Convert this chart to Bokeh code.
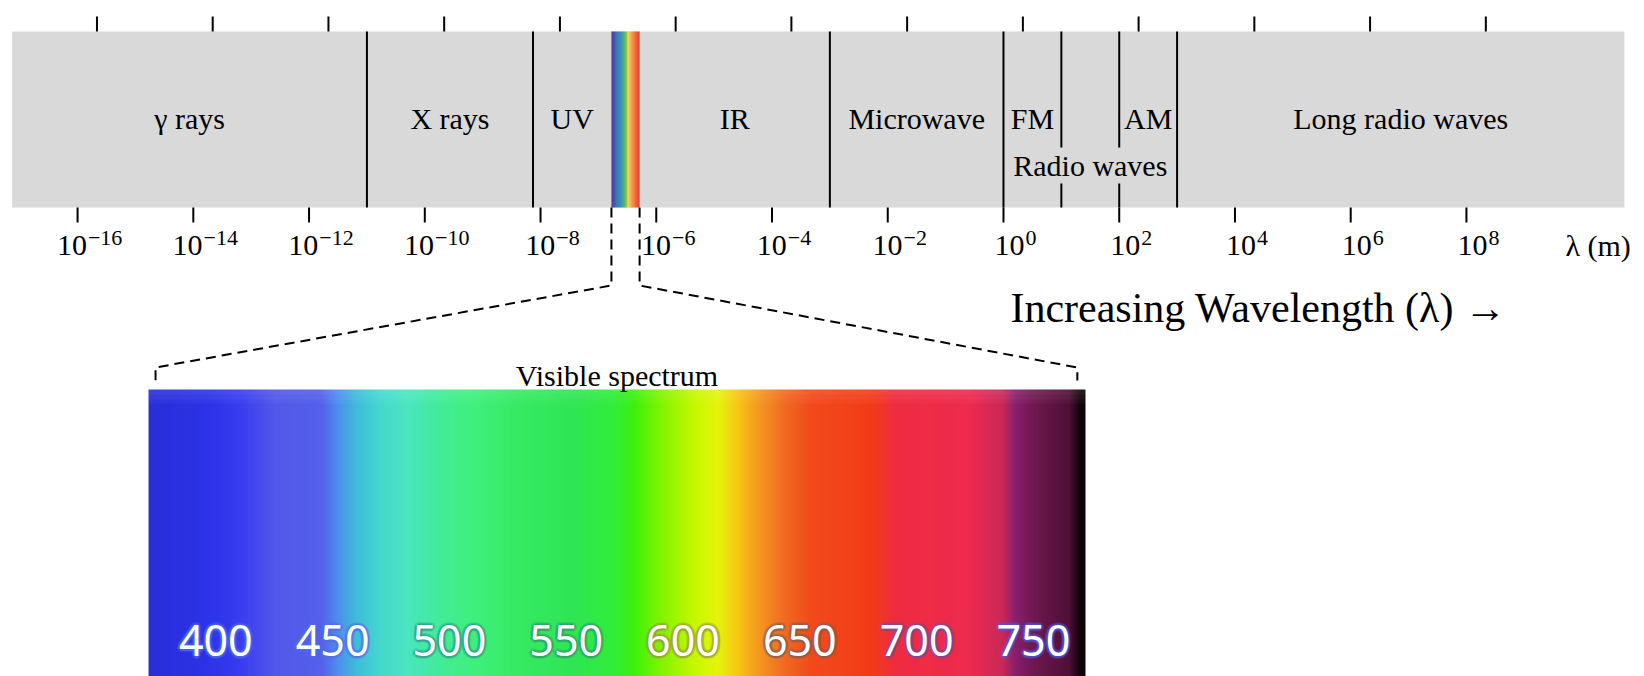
import numpy as np
from bokeh.plotting import figure
from bokeh.models import Range1d, ColumnDataSource
from bokeh.core.properties import value
from bokeh.embed import file_html
from bokeh.resources import INLINE

# ---------------- data (log10 of wavelength in metres) ----------------
band_names = ["γ rays", "X rays", "UV", "IR", "Microwave", "FM", "AM", "Long radio waves"]
band_lo = [-17.13, -11.0, -8.13, -6.288, -3.0, 0.0, 2.0, 3.0]
band_hi = [-11.0, -8.13, -6.775, -3.0, 0.0, 1.0, 3.0, 10.73]
radio_name = "Radio waves"
radio_lo, radio_hi = 0.0, 3.0
divider_full = [-11.0, -8.13, -3.0, 0.0, 3.0]
divider_split = [1.0, 2.0]
strip_lo, strip_hi = -17.13, 10.73
visible_lo, visible_hi = -6.775, -6.288

wl_exponents = [-16, -14, -12, -10, -8, -6, -4, -2, 0, 2, 4, 6, 8]
freq_tick_loglam = [-15.665, -13.665, -11.665, -9.665, -7.665, -5.665, -3.665,
                    -1.665, 0.335, 2.335, 4.335, 6.335, 8.335]

# small rainbow inside the strip (position in log10 λ, colour)
strip_rb_pos = [-6.775, -6.739, -6.687, -6.618, -6.566, -6.523, -6.489, -6.445, -6.393, -6.341, -6.288]
strip_rb_col = ["#55409e", "#4a4aa8", "#3a7cb8", "#3a90b8", "#48b088", "#88c840",
                "#f0e060", "#f4b050", "#f48048", "#ef6040", "#e03c30"]

# visible spectrum (nm)
spec_nm_lo, spec_nm_hi = 371.2, 772.3
spec_stop_nm = [371, 395, 410, 425, 445, 452, 460, 470, 482, 496, 510, 530, 553, 570, 579,
                590, 605, 615, 622, 632, 644, 655, 680, 690, 723, 737, 742, 750, 765, 770, 773]
spec_stop_col = ["#2a2ed8", "#2b33e8", "#3a3cf0", "#5258ea", "#5560ea", "#4f8eef", "#3fbcd9",
                 "#45d8d0", "#4be6c0", "#42ec98", "#40f07e", "#36ea62", "#2ee654", "#30ee38",
                 "#3cf00c", "#80f400", "#c8f800", "#e6f40c", "#f8cc14", "#f49a20", "#f06820",
                 "#f24a1c", "#f23c18", "#f02c40", "#ee2a50", "#c82858", "#8a2070", "#701850",
                 "#501038", "#100408", "#080408"]
spec_labels = [400, 450, 500, 550, 600, 650, 700, 750]
bracket_nm = [374.2, 768.8]

# ---------------- styling / layout ----------------
W, H = 1644, 676
SERIF = value("Liberation Serif")
SANS = value("Noto Sans")
glow_cols = ["#4f6cf0", "#4f6cf0", "#2a9a8a", "#2c9a6a", "#9a9a30", "#8a5a50", "#7a4a9a", "#4a5ad8"]
BASE_PX, EXP_PX = 30, 22


def Y(ref):
    # vertical layout: pixel row from the top -> data y
    return H - ref


def hex_rgb(h):
    return [int(h[i:i + 2], 16) for i in (1, 3, 5)]


def build_rgba(stop_pos, stop_hex, positions, rows, top_blend=None):
    rgb = np.array([hex_rgb(h) for h in stop_hex], float)
    cols = np.stack([np.interp(positions, stop_pos, rgb[:, k]) for k in range(3)], axis=1)
    img = np.empty((rows, len(positions)), dtype=np.uint32)
    v = img.view(dtype=np.uint8).reshape((rows, len(positions), 4))
    for r in range(rows):
        c = cols.copy()
        if top_blend is not None and r >= rows - len(top_blend):
            f = top_blend[r - (rows - len(top_blend))]
            c = c * (1 - f) + 255 * f
        v[r, :, 0:3] = np.clip(c, 0, 255).astype(np.uint8)
        v[r, :, 3] = 255
    return img


xr = Range1d(-17.332, 11.077)
p = figure(width=W, height=H, x_range=xr, y_range=Range1d(0, H),
           output_backend="svg", toolbar_location=None,
           x_axis_location=None, y_axis_location=None, min_border=0)
p.extra_x_ranges = {"nm": Range1d(307.83, 1011.6)}
p.grid.visible = False
p.outline_line_color = None
p.background_fill_color = "white"

# gray strip
p.quad(left=[strip_lo], right=[strip_hi], top=[Y(31)], bottom=[Y(207)],
       fill_color="#d9d9d9", line_color=None)

# rainbow in the strip
rb_pos = np.linspace(visible_lo, visible_hi, 60)
p.image_rgba(image=[build_rgba(strip_rb_pos, strip_rb_col, rb_pos, 1)],
             x=visible_lo, y=Y(207), dw=visible_hi - visible_lo, dh=176)

# dividers
p.segment(x0=divider_full, x1=divider_full, y0=[Y(31)] * len(divider_full),
          y1=[Y(207)] * len(divider_full), line_color="black", line_width=2)
p.segment(x0=divider_split * 2, x1=divider_split * 2,
          y0=[Y(31)] * 2 + [Y(183)] * 2, y1=[Y(147)] * 2 + [Y(207)] * 2,
          line_color="black", line_width=2)

# band labels
bsrc = ColumnDataSource(dict(x=[(a + b) / 2 for a, b in zip(band_lo, band_hi)],
                             y=[Y(117.5)] * len(band_names), t=band_names))
p.text(x="x", y="y", text="t", source=bsrc, text_font=SERIF, text_font_size="30px",
       text_align="center", text_baseline="middle", text_color="black")
p.text(x=[(radio_lo + radio_hi) / 2], y=[Y(165)], text=[radio_name], text_font=SERIF,
       text_font_size="30px", text_align="center", text_baseline="middle", text_color="black")

# bottom wavelength ticks and labels
p.segment(x0=wl_exponents, x1=wl_exponents, y0=[Y(207)] * len(wl_exponents),
          y1=[Y(222)] * len(wl_exponents), line_color="black", line_width=2)
exp_txt = [str(e).replace("-", "−") for e in wl_exponents]
# approximate advance widths (Times metrics) to centre "10^e" a little right of its tick
exp_w = [sum(0.564 if ch == "−" else 0.5 for ch in t) * EXP_PX for t in exp_txt]
left_off = [11.5 - (BASE_PX + w) / 2 for w in exp_w]
tsrc = ColumnDataSource(dict(x=wl_exponents, yb=[Y(245)] * len(wl_exponents),
                             ye=[Y(237)] * len(wl_exponents), base=["10"] * len(wl_exponents),
                             e=exp_txt, ob=left_off, oe=[o + BASE_PX + 1 for o in left_off]))
p.text(x="x", y="yb", text="base", source=tsrc, x_offset="ob",
       text_font=SERIF, text_font_size=f"{BASE_PX}px", text_align="left",
       text_baseline="middle", text_color="black")
p.text(x="x", y="ye", text="e", source=tsrc, x_offset="oe",
       text_font=SERIF, text_font_size=f"{EXP_PX}px", text_align="left",
       text_baseline="middle", text_color="black")
p.text(x=[9.711], y=[Y(245)], text=["λ (m)"], text_font=SERIF, text_font_size="30px",
       text_align="left", text_baseline="middle", text_color="black")

# top frequency ticks (their labels fall outside the picture)
p.segment(x0=freq_tick_loglam, x1=freq_tick_loglam, y0=[Y(16)] * len(freq_tick_loglam),
          y1=[Y(31)] * len(freq_tick_loglam), line_color="black", line_width=2)

# increasing wavelength caption
p.text(x=[0.12], y=[Y(307)], text=["Increasing Wavelength (λ) →"], text_font=SERIF,
       text_font_size="42px", text_align="left", text_baseline="middle", text_color="black")

# dashed zoom lines: convert nm bracket ends into the λ range
nmr = p.extra_x_ranges["nm"]


def nm_to_l(nm):
    return xr.start + (nm - nmr.start) * (xr.end - xr.start) / (nmr.end - nmr.start)


xs = [[visible_lo, visible_lo, nm_to_l(bracket_nm[0]), nm_to_l(bracket_nm[0])],
      [visible_hi, visible_hi, nm_to_l(bracket_nm[1]), nm_to_l(bracket_nm[1])]]
ys = [[Y(207), Y(285), Y(367), Y(380)]] * 2
p.multi_line(xs=xs, ys=ys, line_color="black", line_width=2, line_dash="10 6")

# visible spectrum
spec_pos = np.linspace(spec_nm_lo, spec_nm_hi, 940)
p.image_rgba(image=[build_rgba(spec_stop_nm, spec_stop_col, spec_pos, 60,
                               top_blend=[0.03, 0.06, 0.09])],
             x=spec_nm_lo, y=Y(676), dw=spec_nm_hi - spec_nm_lo, dh=287, x_range_name="nm")
p.text(x=[(spec_nm_lo + spec_nm_hi) / 2], y=[Y(375)], text=["Visible spectrum"],
       x_range_name="nm", text_font=SERIF, text_font_size="30px", text_align="center",
       text_baseline="middle", text_color="black")

lsrc = ColumnDataSource(dict(x=spec_labels, y=[Y(640)] * len(spec_labels),
                             t=[str(v) for v in spec_labels], g=glow_cols))
for dx, dy, a in [(3, 0, 0.25), (-3, 0, 0.25), (0, 3, 0.25), (0, -3, 0.25),
                  (2.1, 2.1, 0.25), (-2.1, 2.1, 0.25), (2.1, -2.1, 0.25), (-2.1, -2.1, 0.25),
                  (1.5, 0, 0.5), (-1.5, 0, 0.5), (0, 1.5, 0.5), (0, -1.5, 0.5)]:
    p.text(x="x", y="y", text="t", source=lsrc, x_range_name="nm", text_font=SANS,
           text_font_size="43px", text_align="center", text_baseline="middle",
           text_color="g", text_alpha=a, x_offset=dx, y_offset=dy)
p.text(x="x", y="y", text="t", source=lsrc, x_range_name="nm", text_font=SANS,
       text_font_size="43px", text_align="center", text_baseline="middle",
       text_color="white")

open("out.html", "w").write(file_html(p, INLINE))
